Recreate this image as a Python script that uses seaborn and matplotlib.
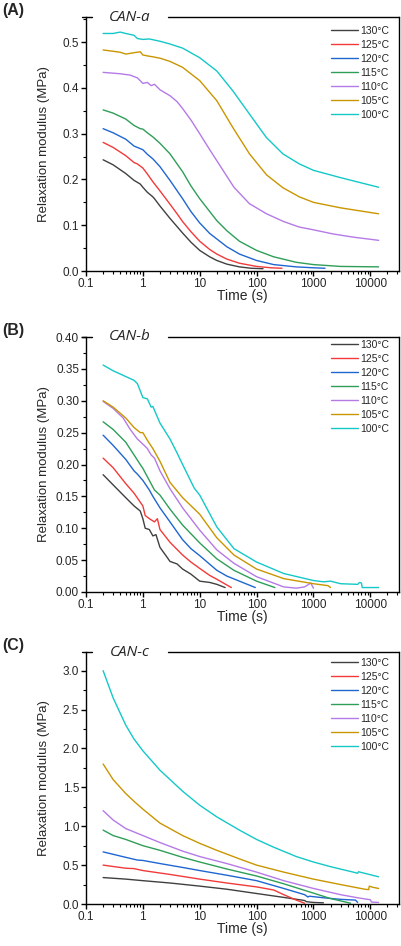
import matplotlib
matplotlib.use('Agg')
import matplotlib.pyplot as plt
from matplotlib.ticker import LogLocator, MultipleLocator, FixedLocator, FixedFormatter, NullFormatter, FormatStrFormatter
import seaborn as sns
import pandas as pd

temps = ['130°C', '125°C', '120°C', '115°C', '110°C', '105°C', '100°C']
colors = ['#404040', '#f23a3a', '#1f66d1', '#2e9e58', '#b57ae6', '#c99600', '#14c8c8']

# ---- panel A: CAN-a ----
a130_t = [0.2, 0.3, 0.5, 0.7, 0.9, 1.0, 1.2, 1.5, 1.6, 2, 3, 4, 5, 7, 10, 15, 20, 30, 50, 80, 130]
a130_g = [0.243, 0.232, 0.213, 0.198, 0.19, 0.183, 0.172, 0.162, 0.158, 0.142, 0.115, 0.097, 0.083, 0.063, 0.045, 0.031, 0.023, 0.015, 0.009, 0.006, 0.005]
a125_t = [0.2, 0.3, 0.5, 0.7, 0.8, 1.0, 1.2, 1.5, 2, 3, 4, 5, 7, 10, 15, 20, 30, 50, 100, 180, 280]
a125_g = [0.281, 0.27, 0.252, 0.237, 0.234, 0.225, 0.212, 0.195, 0.175, 0.146, 0.125, 0.108, 0.086, 0.065, 0.047, 0.037, 0.026, 0.017, 0.01, 0.007, 0.006]
a120_t = [0.2, 0.3, 0.5, 0.7, 0.8, 1.0, 1.2, 1.5, 2, 3, 5, 7, 10, 15, 20, 30, 50, 100, 200, 500, 1000, 1600]
a120_g = [0.311, 0.302, 0.288, 0.273, 0.27, 0.265, 0.255, 0.245, 0.228, 0.198, 0.158, 0.13, 0.105, 0.082, 0.07, 0.053, 0.037, 0.023, 0.014, 0.009, 0.007, 0.006]
a115_t = [0.2, 0.3, 0.5, 0.7, 0.9, 1.0, 1.2, 1.5, 2, 3, 5, 7, 10, 20, 30, 50, 100, 200, 500, 1000, 3000, 14000]
a115_g = [0.352, 0.345, 0.332, 0.318, 0.311, 0.31, 0.302, 0.293, 0.279, 0.256, 0.217, 0.186, 0.158, 0.11, 0.088, 0.065, 0.045, 0.031, 0.019, 0.014, 0.01, 0.009]
a110_t = [0.2, 0.4, 0.6, 0.8, 1.0, 1.2, 1.4, 1.6, 2, 3, 4, 5, 7, 10, 15, 20, 40, 75, 150, 300, 565, 1000, 2200, 5000, 14000]
a110_g = [0.434, 0.431, 0.428, 0.422, 0.41, 0.412, 0.405, 0.408, 0.396, 0.383, 0.37, 0.355, 0.33, 0.3, 0.265, 0.241, 0.183, 0.147, 0.125, 0.108, 0.096, 0.09, 0.081, 0.074, 0.067]
a105_t = [0.2, 0.4, 0.5, 0.7, 0.9, 1.0, 1.2, 1.5, 2, 3, 5, 10, 20, 38, 75, 150, 290, 565, 1000, 3000, 14000]
a105_g = [0.483, 0.478, 0.474, 0.477, 0.479, 0.472, 0.47, 0.468, 0.465, 0.458, 0.445, 0.416, 0.372, 0.314, 0.256, 0.21, 0.182, 0.162, 0.15, 0.138, 0.125]
a100_t = [0.2, 0.3, 0.4, 0.5, 0.7, 0.8, 1.0, 1.3, 2, 3, 5, 10, 20, 38, 75, 148, 290, 565, 1000, 3000, 14000]
a100_g = [0.519, 0.519, 0.522, 0.519, 0.515, 0.508, 0.506, 0.507, 0.502, 0.496, 0.487, 0.466, 0.437, 0.394, 0.343, 0.292, 0.256, 0.234, 0.22, 0.204, 0.183]

# ---- panel B: CAN-b ----
b130_t = [0.2, 0.3, 0.5, 0.7, 0.9, 1.0, 1.1, 1.3, 1.5, 1.7, 2, 2.5, 3, 4, 5, 7, 10, 15, 20, 28]
b130_g = [0.184, 0.168, 0.148, 0.135, 0.127, 0.115, 0.1, 0.098, 0.088, 0.09, 0.07, 0.058, 0.048, 0.044, 0.036, 0.028, 0.017, 0.015, 0.012, 0.007]
b125_t = [0.2, 0.3, 0.5, 0.7, 1.0, 1.1, 1.3, 1.6, 1.8, 2, 3, 5, 7, 10, 15, 20, 25, 36]
b125_g = [0.21, 0.195, 0.17, 0.155, 0.135, 0.12, 0.115, 0.11, 0.115, 0.098, 0.078, 0.058, 0.047, 0.037, 0.026, 0.02, 0.015, 0.007]
b120_t = [0.2, 0.3, 0.5, 0.7, 0.8, 1.0, 1.3, 1.5, 2, 3, 5, 7, 10, 20, 30, 50, 95]
b120_g = [0.246, 0.23, 0.208, 0.19, 0.185, 0.175, 0.16, 0.15, 0.132, 0.11, 0.082, 0.068, 0.057, 0.034, 0.025, 0.017, 0.007]
b115_t = [0.2, 0.3, 0.5, 0.7, 0.9, 1.0, 1.3, 1.6, 2, 3, 5, 10, 20, 40, 100, 210]
b115_g = [0.267, 0.255, 0.235, 0.215, 0.2, 0.194, 0.175, 0.16, 0.152, 0.13, 0.105, 0.077, 0.052, 0.034, 0.017, 0.007]
b110_t = [0.2, 0.3, 0.45, 0.6, 0.8, 1.0, 1.2, 1.4, 1.6, 2, 3, 5, 10, 20, 40, 100, 300, 500, 700, 900, 1000]
b110_g = [0.299, 0.288, 0.273, 0.255, 0.24, 0.232, 0.225, 0.215, 0.21, 0.19, 0.162, 0.132, 0.097, 0.066, 0.045, 0.024, 0.008, 0.006, 0.008, 0.014, 0.006]
b105_t = [0.2, 0.3, 0.5, 0.7, 0.9, 1.0, 1.2, 1.5, 2, 3, 5, 10, 20, 40, 100, 300, 1000, 1800, 2000]
b105_g = [0.3, 0.29, 0.273, 0.258, 0.25, 0.25, 0.238, 0.225, 0.205, 0.172, 0.148, 0.122, 0.085, 0.058, 0.036, 0.021, 0.013, 0.01, 0.007]
b100_t = [0.2, 0.3, 0.5, 0.7, 0.8, 1.0, 1.2, 1.4, 1.5, 2, 3, 4, 5, 8, 10, 20, 40, 100, 300, 1000, 1500, 2000, 3000, 6000, 6500, 7000, 7200, 14000]
b100_g = [0.356, 0.347, 0.338, 0.332, 0.327, 0.305, 0.303, 0.29, 0.291, 0.265, 0.24, 0.218, 0.2, 0.163, 0.152, 0.102, 0.068, 0.047, 0.029, 0.018, 0.016, 0.017, 0.013, 0.012, 0.015, 0.014, 0.007, 0.007]

# ---- panel C: CAN-c ----
c130_t = [0.2, 0.5, 1, 3, 10, 30, 100, 300, 700, 750, 1000, 1500]
c130_g = [0.34, 0.32, 0.3, 0.27, 0.23, 0.19, 0.135, 0.085, 0.045, 0.03, 0.02, 0.015]
c125_t = [0.2, 0.5, 0.7, 1, 3, 10, 30, 100, 200, 300, 500, 700]
c125_g = [0.5, 0.46, 0.455, 0.43, 0.38, 0.32, 0.27, 0.22, 0.18, 0.12, 0.05, 0.01]
c120_t = [0.2, 0.5, 0.8, 1, 2, 5, 10, 30, 100, 300, 700, 800, 850, 1500, 3000, 5500, 6000]
c120_g = [0.67, 0.6, 0.565, 0.56, 0.52, 0.47, 0.43, 0.37, 0.3, 0.2, 0.12, 0.09, 0.1, 0.08, 0.06, 0.05, 0.02]
c115_t = [0.2, 0.3, 0.5, 1, 2, 5, 10, 30, 100, 300, 1000, 2000, 3000, 4500]
c115_g = [0.95, 0.88, 0.83, 0.75, 0.69, 0.6, 0.54, 0.45, 0.36, 0.26, 0.14, 0.07, 0.04, 0.01]
c110_t = [0.2, 0.3, 0.5, 1, 2, 5, 10, 30, 100, 300, 1000, 3000, 6000, 9000, 10000, 10500, 14000]
c110_g = [1.2, 1.08, 0.97, 0.88, 0.79, 0.68, 0.61, 0.52, 0.41, 0.3, 0.2, 0.12, 0.08, 0.06, 0.055, 0.025, 0.02]
c105_t = [0.2, 0.3, 0.5, 0.7, 1, 2, 5, 10, 20, 50, 100, 300, 1000, 3000, 8000, 9400, 9600, 11000, 14000]
c105_g = [1.8, 1.6, 1.42, 1.32, 1.22, 1.04, 0.88, 0.78, 0.69, 0.58, 0.5, 0.41, 0.32, 0.25, 0.19, 0.185, 0.23, 0.215, 0.2]
c100_t = [0.2, 0.3, 0.5, 0.7, 1, 2, 5, 10, 20, 50, 100, 200, 500, 1000, 2000, 5000, 6000, 6200, 7000, 14000]
c100_g = [3.0, 2.65, 2.3, 2.12, 1.97, 1.72, 1.45, 1.27, 1.12, 0.95, 0.83, 0.73, 0.61, 0.54, 0.48, 0.41, 0.395, 0.415, 0.405, 0.35]

panel_a = [(a130_t, a130_g), (a125_t, a125_g), (a120_t, a120_g), (a115_t, a115_g),
           (a110_t, a110_g), (a105_t, a105_g), (a100_t, a100_g)]
panel_b = [(b130_t, b130_g), (b125_t, b125_g), (b120_t, b120_g), (b115_t, b115_g),
           (b110_t, b110_g), (b105_t, b105_g), (b100_t, b100_g)]
panel_c = [(c130_t, c130_g), (c125_t, c125_g), (c120_t, c120_g), (c115_t, c115_g),
           (c110_t, c110_g), (c105_t, c105_g), (c100_t, c100_g)]

xticks = [0.1, 1, 10, 100, 1000, 10000]
xtick_labels = ['0.1', '1', '10', '100', '1000', '10000']


def build(curves):
    rows = []
    for temp, (t, g) in zip(temps, curves):
        for ti, gi in zip(t, g):
            rows.append({'time': ti, 'G': gi, 'temp': temp})
    return pd.DataFrame(rows)


sns.set_style('ticks')
plt.rcParams['font.family'] = ['Liberation Sans', 'DejaVu Sans']

fig = plt.figure(figsize=(4.02, 9.46), dpi=100)

# axes boxes in pixels: (top, bottom)
boxes = [(17, 271), (337, 592), (652, 904)]
ylims = [0.555, 0.40, 3.24]
ymajor = [0.1, 0.05, 0.5]
yfmt = ['%.1f', '%.2f', '%.1f']
names = ['CAN-a', 'CAN-b', 'CAN-c']
letters = ['(A)', '(B)', '(C)']
leg_y = [0.965, 0.988, 0.976]
panels = [panel_a, panel_b, panel_c]
W, H = 402, 946

for i in range(3):
    top, bot = boxes[i]
    ax = fig.add_axes([86 / W, (H - bot) / H, 313 / W, (bot - top) / H])
    df = build(panels[i])
    sns.lineplot(data=df, x='time', y='G', hue='temp', hue_order=temps,
                 palette=dict(zip(temps, colors)), estimator=None, sort=False,
                 lw=1.0, ax=ax)
    ax.set_xscale('log')
    ax.set_xlim(0.1, 32000)
    ax.set_ylim(0, ylims[i])
    ax.xaxis.set_major_locator(FixedLocator(xticks))
    ax.xaxis.set_major_formatter(FixedFormatter(xtick_labels))
    ax.xaxis.set_minor_locator(LogLocator(base=10, subs=range(2, 10), numticks=20))
    ax.xaxis.set_minor_formatter(NullFormatter())
    ax.yaxis.set_major_locator(MultipleLocator(ymajor[i]))
    ax.yaxis.set_minor_locator(MultipleLocator(ymajor[i] / 2))
    ax.yaxis.set_major_formatter(FormatStrFormatter(yfmt[i]))
    ax.tick_params(which='major', direction='out', length=3.5, width=1, labelsize=8.5, pad=1.5, color='black')
    ax.tick_params(which='minor', direction='out', length=2, width=0.8, color='black')
    for s in ['left', 'bottom', 'right']:
        ax.spines[s].set_linewidth(1.0)
        ax.spines[s].set_color('black')
    ax.spines['top'].set_visible(False)
    ax.plot([-0.013, 0.02], [1, 1], color='black', lw=1.0, transform=ax.transAxes, clip_on=False)
    ax.plot([0.262, 1.0], [1, 1], color='black', lw=1.0, transform=ax.transAxes, clip_on=False)
    ax.text(0.14, 1.0, names[i], transform=ax.transAxes, ha='center', va='center',
            fontsize=11, style='italic', family=['Open Sans', 'DejaVu Sans'])
    ax.set_xlabel('Time (s)', fontsize=10)
    ax.set_ylabel('Relaxation modulus (MPa)', fontsize=9.5)
    ax.xaxis.set_label_coords(0.5, -0.07)
    ax.yaxis.set_label_coords(-0.115, 0.5)
    handles, labels = ax.get_legend_handles_labels()
    ax.legend(handles, labels, loc='upper right', bbox_to_anchor=(0.97, leg_y[i]),
              frameon=False, fontsize=7.5, handlelength=2.6, handletextpad=0.2,
              labelspacing=0.38, borderpad=0, borderaxespad=0)
    fig.text(2 / W, 1 - (boxes[i][0] - 14) / H, letters[i], fontsize=11.5, fontweight='bold',
             ha='left', va='top')

fig.savefig('out.png', dpi=100)
